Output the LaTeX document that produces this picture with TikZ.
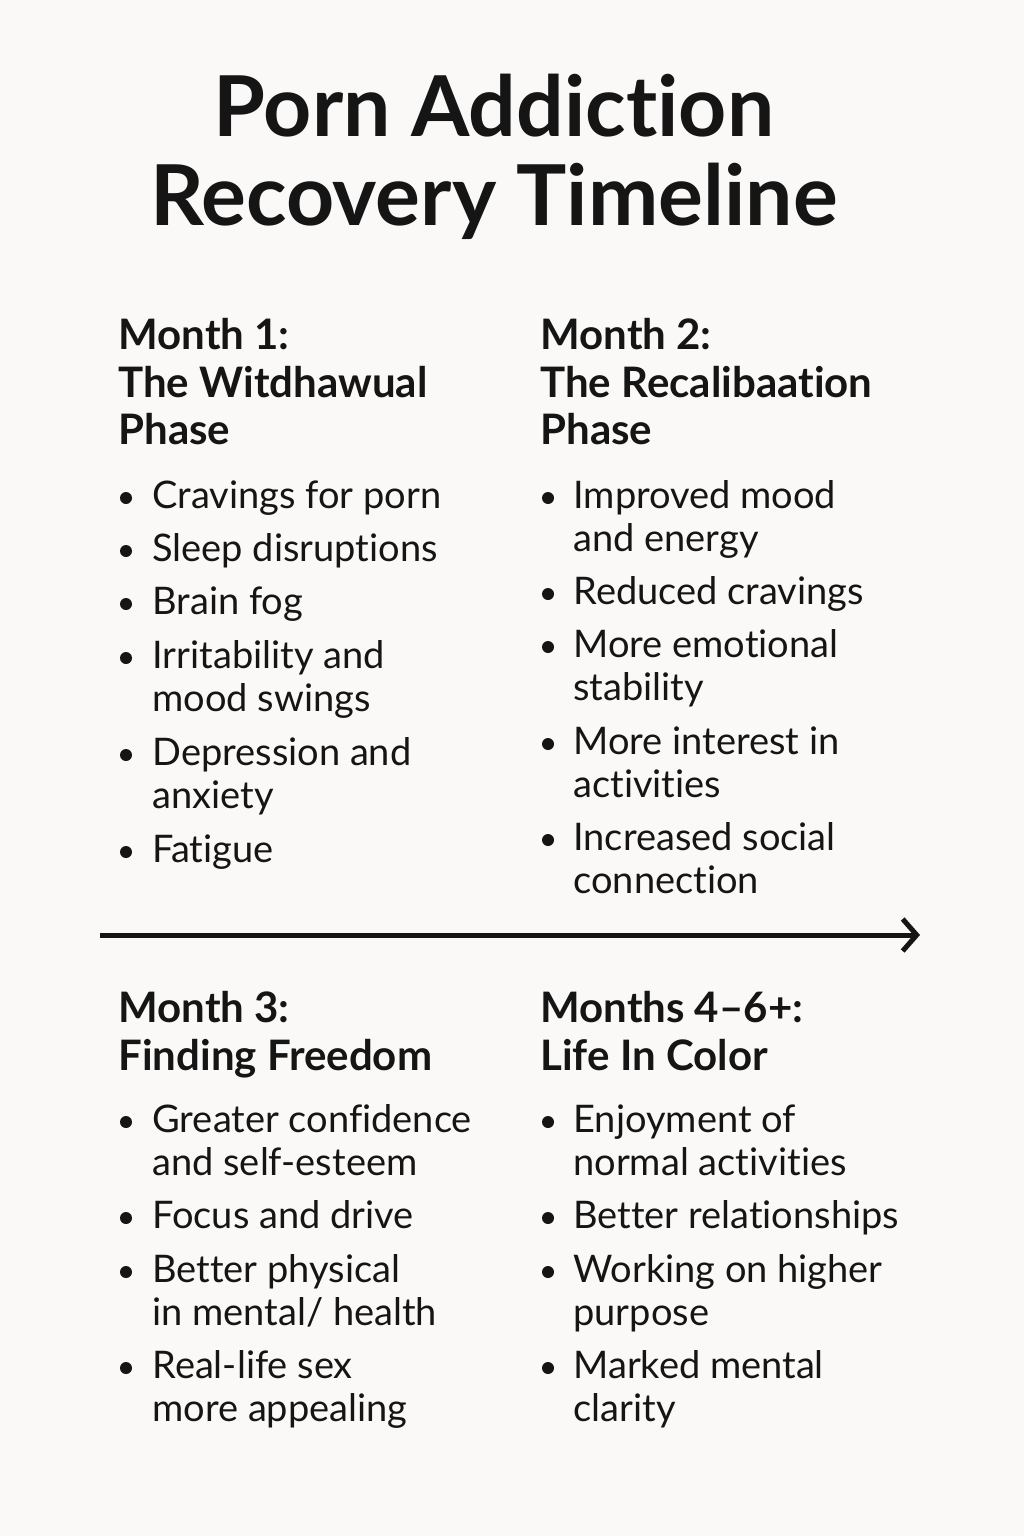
\documentclass[tikz,border=0pt]{standalone}
\usepackage{fontspec}
\setmainfont{Lato}[Ligatures={NoCommon}]
\usetikzlibrary{arrows.meta}
\definecolor{bg}{HTML}{FAF9F7}
\definecolor{ink}{HTML}{151515}
\tikzset{
 ttl/.style={anchor=base,inner sep=0,font=\fontsize{42}{46}\selectfont\bfseries,text=ink},
 hdr/.style={anchor=base west,inner sep=0,font=\fontsize{21}{24}\selectfont\bfseries,text=ink},
 itm/.style={anchor=base west,inner sep=0,font=\fontsize{19}{22}\selectfont,text=ink},
 dot/.style={circle,fill=ink,inner sep=0,minimum size=6pt}
}
\begin{document}
\begin{tikzpicture}[x=0.5pt,y=-0.5pt]
\fill[bg] (0,0) rectangle (1024,1536);
\useasboundingbox (0,0) rectangle (1024,1536);
\node[ttl] (t1) at (494,137) {Porn Addiction};
\node[ttl] (t2) at (494,225) {Recovery Timeline};
% left top
\node[hdr] (h1a) at (118,349) {Month 1:};
\node[hdr] (h1b) at (118,397) {The Witdhawual};
\node[hdr] (h1c) at (118,444) {Phase};
\foreach \y/\t [count=\i] in {508/Cravings for porn,561/Sleep disruptions,614/Brain fog,668/Irritability and,765/Depression and,862/Fatigue}
 {\node[dot] (d1\i) at (126,\y-10) {}; \node[itm] (a\i) at (152,\y) {\t};}
\node[itm] (a4b) at (152,711) {mood swings};
\node[itm] (a5b) at (152,808) {anxiety};
% right top
\node[hdr] (h2a) at (540,349) {Month 2:};
\node[hdr] (h2b) at (540,397) {The Recalibaation};
\node[hdr] (h2c) at (540,444) {Phase};
\foreach \y/\t [count=\i] in {508/Improved mood,604/Reduced cravings,657/More emotional,754/More interest in,850/Increased social}
 {\node[dot] (d2\i) at (548,\y-10) {}; \node[itm] (b\i) at (573,\y) {\t};}
\node[itm] (b1b) at (573,551) {and energy};
\node[itm] (b3b) at (573,700) {stability};
\node[itm] (b4b) at (573,797) {activities};
\node[itm] (b5b) at (573,893) {connection};
% arrow
\coordinate (as) at (100,935);
\coordinate (ae) at (920,935);
\draw[line width=2.5pt,ink,-{Straight Barb[length=7pt,width=16pt,line width=2.5pt]}] (as) -- (ae);
% left bottom
\node[hdr] (h3a) at (118,1022) {Month 3:};
\node[hdr] (h3b) at (118,1070) {Finding Freedom};
\foreach \y/\t [count=\i] in {1132/Greater confidence,1228/Focus and drive,1282/Better physical,1378/Real-life sex}
 {\node[dot] (d3\i) at (126,\y-10) {}; \node[itm] (c\i) at (152,\y) {\t};}
\node[itm] (c1b) at (152,1175) {and self-esteem};
\node[itm] (c3b) at (152,1325) {in mental/ health};
\node[itm] (c4b) at (152,1421) {more appealing};
% right bottom
\node[hdr] (h4a) at (540,1022) {Months 4–6+:};
\node[hdr] (h4b) at (540,1070) {Life In Color};
\foreach \y/\t [count=\i] in {1132/Enjoyment of,1228/Better relationships,1282/Working on higher,1378/Marked mental}
 {\node[dot] (d4\i) at (548,\y-10) {}; \node[itm] (e\i) at (573,\y) {\t};}
\node[itm] (e1b) at (573,1175) {normal activities};
\node[itm] (e3b) at (573,1325) {purpose};
\node[itm] (e4b) at (573,1421) {clarity};
\end{tikzpicture}
\end{document}
